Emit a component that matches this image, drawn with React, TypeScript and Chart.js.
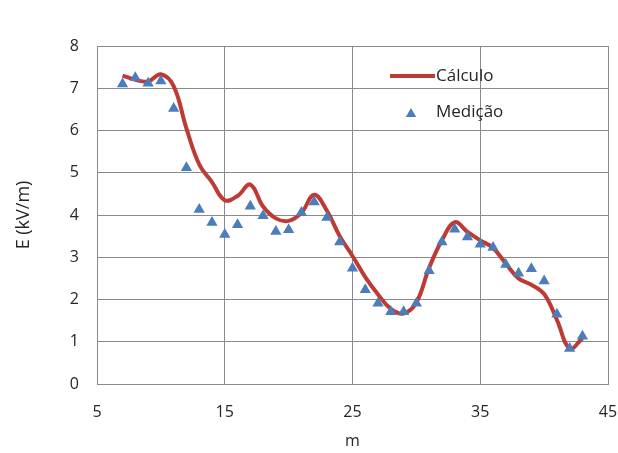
import { useEffect, useRef } from "react";
import { Chart, registerables } from "chart.js";

Chart.register(...registerables);

// ---- data ----
const positions = [7, 8, 9, 10, 11, 12, 13, 14, 15, 16, 17, 18, 19, 20, 21, 22, 23, 24, 25, 26, 27, 28, 29, 30, 31, 32, 33, 34, 35, 36, 37, 38, 39, 40, 41, 42, 43];
const calculo = [7.3, 7.2, 7.16, 7.33, 7.05, 6.05, 5.2, 4.78, 4.35, 4.45, 4.72, 4.2, 3.92, 3.86, 4.05, 4.48, 4.1, 3.5, 3.03, 2.53, 2.12, 1.78, 1.67, 1.93, 2.75, 3.4, 3.83, 3.6, 3.4, 3.22, 2.85, 2.5, 2.35, 2.13, 1.52, 0.84, 1.08];
const medicao = [7.1, 7.25, 7.12, 7.17, 6.52, 5.12, 4.13, 3.82, 3.54, 3.77, 4.21, 3.98, 3.61, 3.65, 4.06, 4.31, 3.94, 3.36, 2.74, 2.23, 1.91, 1.71, 1.71, 1.91, 2.68, 3.36, 3.66, 3.48, 3.31, 3.23, 2.83, 2.62, 2.73, 2.44, 1.65, 0.84, 1.13];
const xTickValues = [5, 15, 25, 35, 45];
const yTickValues = [0, 1, 2, 3, 4, 5, 6, 7, 8];
const seriesNames = ["Cálculo", "Medição"];
const xTitle = "m";
const yTitle = "E (kV/m)";

const LINE_COLOR = "#BD3A35";
const MARK_COLOR = "#4A7DBA";
const GRID_COLOR = "#8A8A8A";
const TEXT_COLOR = "#262626";
const FONT = "'Open Sans', sans-serif";

const insideLegend = {
  id: "insideLegend",
  afterDatasetsDraw(chart: any) {
    const { ctx, chartArea } = chart;
    const L = chartArea.left;
    const T = chartArea.top;
    ctx.save();
    // row 1: line sample
    ctx.strokeStyle = LINE_COLOR;
    ctx.lineWidth = 4;
    ctx.beginPath();
    ctx.moveTo(L + 293, T + 30);
    ctx.lineTo(L + 338, T + 30);
    ctx.stroke();
    // row 2: triangle sample
    const cx = L + 314;
    const cy = T + 68;
    const r = 6;
    ctx.fillStyle = MARK_COLOR;
    ctx.beginPath();
    ctx.moveTo(cx, cy - r);
    ctx.lineTo(cx + r * 0.866, cy + r * 0.5);
    ctx.lineTo(cx - r * 0.866, cy + r * 0.5);
    ctx.closePath();
    ctx.fill();
    ctx.fillStyle = TEXT_COLOR;
    ctx.font = `17px ${FONT}`;
    ctx.textBaseline = "middle";
    ctx.textAlign = "left";
    ctx.fillText(seriesNames[0], L + 339, T + 30);
    ctx.fillText(seriesNames[1], L + 339, T + 66);
    ctx.restore();
  },
};

export default function App() {
  const ref = useRef<HTMLCanvasElement>(null);
  useEffect(() => {
    if (!ref.current) return;
    const chart = new Chart(ref.current, {
      type: "scatter",
      data: {
        datasets: [
          {
            label: seriesNames[1],
            data: positions.map((x, i) => ({ x, y: medicao[i] })),
            showLine: false,
            pointStyle: "triangle",
            pointRadius: 6.5,
            pointBackgroundColor: MARK_COLOR,
            pointBorderColor: MARK_COLOR,
            pointBorderWidth: 0,
            order: 0,
          },
          {
            label: seriesNames[0],
            data: positions.map((x, i) => ({ x, y: calculo[i] })),
            showLine: true,
            borderColor: LINE_COLOR,
            borderWidth: 4,
            tension: 0.4,
            pointRadius: 0,
            order: 1,
          },
        ],
      },
      options: {
        animation: false,
        responsive: true,
        maintainAspectRatio: false,
        layout: { padding: { left: 0, top: 46, right: 10, bottom: 0 } },
        plugins: { legend: { display: false }, tooltip: { enabled: false } },
        scales: {
          x: {
            type: "linear",
            min: 5,
            max: 45,
            afterBuildTicks: (s: any) => {
              s.ticks = xTickValues.map((v) => ({ value: v }));
            },
            afterFit: (s: any) => {
              s.height = 69;
              s.paddingLeft = 0;
              s.paddingRight = 0;
            },
            grid: { color: GRID_COLOR, lineWidth: 1, drawTicks: false },
            border: { color: GRID_COLOR, width: 1 },
            ticks: { padding: 19, color: TEXT_COLOR, font: { family: FONT, size: 16 }, maxRotation: 0 },
            title: {
              display: true,
              text: xTitle,
              color: TEXT_COLOR,
              font: { family: FONT, size: 16 },
              padding: { top: 0, bottom: 2 },
            },
          },
          y: {
            type: "linear",
            min: 0,
            max: 8,
            afterBuildTicks: (s: any) => {
              s.ticks = yTickValues.map((v) => ({ value: v }));
            },
            afterFit: (s: any) => {
              s.width = 97;
              s.paddingTop = 0;
              s.paddingBottom = 0;
            },
            grid: { color: GRID_COLOR, lineWidth: 1, drawTicks: false },
            border: { color: GRID_COLOR, width: 1 },
            ticks: { padding: 18, color: TEXT_COLOR, font: { family: FONT, size: 16 } },
            title: {
              display: true,
              text: yTitle,
              color: TEXT_COLOR,
              font: { family: FONT, size: 18 },
              padding: { top: 13, bottom: 0 },
            },
          },
        },
      },
      plugins: [insideLegend],
    });
    return () => chart.destroy();
  }, []);
  return (
    <div style={{ position: "absolute", left: 0, top: 0, width: 618, height: 453, background: "#fff" }}>
      <canvas ref={ref} />
    </div>
  );
}
